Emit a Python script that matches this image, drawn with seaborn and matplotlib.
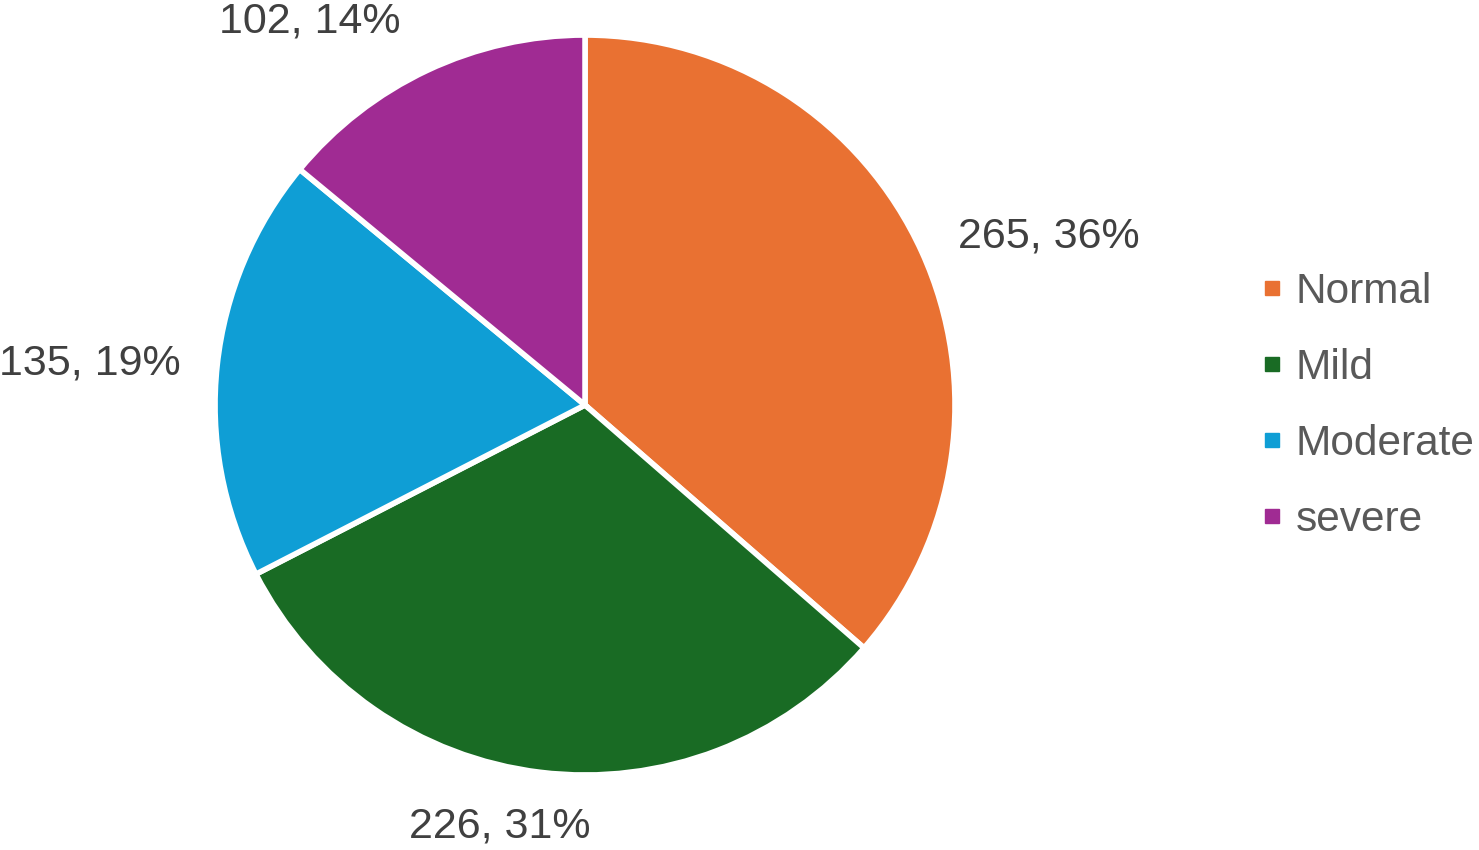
import matplotlib
matplotlib.use("Agg")
import matplotlib.pyplot as plt
import matplotlib.transforms as mtransforms
from matplotlib.lines import Line2D
import seaborn as sns

# Data
categories = ["Normal", "Mild", "Moderate", "severe"]
counts = [265, 226, 135, 102]
percents = [36, 31, 19, 14]
colors = ["#E97132", "#196B24", "#0F9ED5", "#A02B93"]

sns.set_theme(style="white")
plt.rcParams["font.family"] = ["Liberation Sans", "DejaVu Sans"]

fig = plt.figure(figsize=(14.79, 8.5), dpi=100)
ax = fig.add_axes([0.1454, 0.0882, 0.5003, 0.8706])

labels = [f"{c}, {p}%" for c, p in zip(counts, percents)]
wedges, texts = ax.pie(
    counts,
    labels=labels,
    colors=colors,
    startangle=90,
    counterclock=False,
    labeldistance=1.1,
    wedgeprops=dict(edgecolor="white", linewidth=4),
    textprops=dict(fontsize=31, color="#404040"),
)
ax.set_xlim(-1, 1)
ax.set_ylim(-1, 1)
ax.set_aspect("equal")

# small nudges (in pixels) so labels sit where the original puts them
nudges = [(3, 0), (-36, -17), (0, -2), (-11, 15)]
texts[1].set_ha("center")
for t, (dx, dy) in zip(texts, nudges):
    t.set_transform(mtransforms.offset_copy(ax.transData, fig=fig,
                                            x=dx, y=dy, units="dots"))

handles = [Line2D([0], [0], marker="s", color="none", markerfacecolor=c,
                  markeredgecolor=c, markersize=10) for c in colors]
fig.legend(handles, categories, loc="center left",
           bbox_to_anchor=(0.853, 0.522), frameon=False,
           fontsize=30.5, labelcolor="#595959",
           handlelength=0.5, handletextpad=0.3, labelspacing=0.85,
           borderpad=0, borderaxespad=0)

plt.savefig("out.png", dpi=100)
plt.close()
